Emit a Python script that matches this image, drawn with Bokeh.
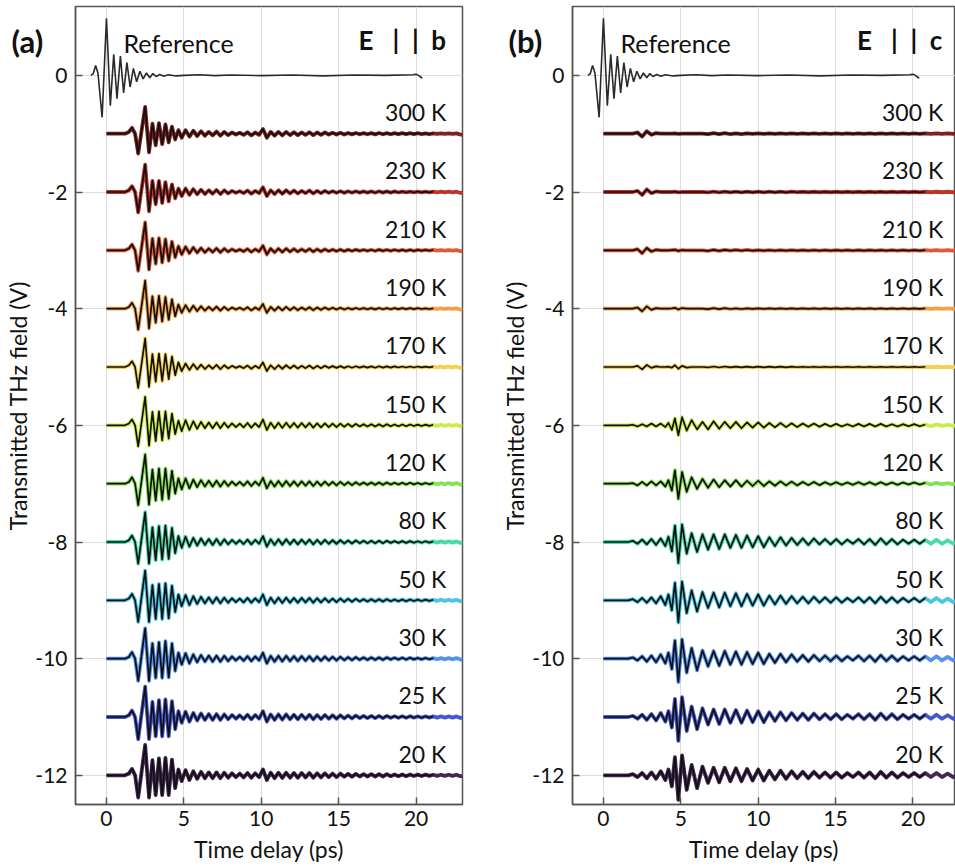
import numpy as np
from bokeh.plotting import figure
from bokeh.models import Range1d, Label, FixedTicker, GridBox
from bokeh.core.properties import value
from bokeh.embed import file_html
from bokeh.resources import INLINE

FONT = "Lato"

temps = ["300 K", "230 K", "210 K", "190 K", "170 K", "150 K", "120 K", "80 K", "50 K", "30 K", "25 K", "20 K"]
offsets = [-1, -2, -3, -4, -5, -6, -7, -8, -9, -10, -11, -12]
colors = ["#7a1414", "#b8281e", "#dc5228", "#f29c3c", "#f4cf46", "#c8ec3e", "#80e04c", "#40d8a2", "#40c2e0", "#4a8cf0", "#3c4ecf", "#3a1c4c"]

x_ticks = [0, 5, 10, 15, 20]
y_ticks = [-12, -10, -8, -6, -4, -2, 0]
y_tick_text = ["-12", "-10", "-8", "-6", "-4", "-2", "0"]
panel_letters = ["(a)", "(b)"]
polarizations = ["E\u00a0\u00a0\u00a0|\u00a0\u00a0|\u00a0\u00a0b", "E\u00a0\u00a0\u00a0|\u00a0\u00a0|\u00a0\u00a0c"]

# reference pulse (same in both panels)
ref_t = [-1.0, -0.85, -0.7, -0.55, -0.28, 0.0, 0.25, 0.47, 0.68, 0.9, 1.11, 1.32, 1.53, 1.74, 1.95,
         2.16, 2.37, 2.58, 2.8, 3.0, 3.2, 3.45, 3.7, 4.0, 4.5, 5.0, 6.0, 7.0, 8.0, 10.0, 12.0, 14.0,
         16.0, 18.0, 19.8, 20.0, 20.2, 20.4]
ref_v = [0.0, 0.03, 0.17, 0.04, -0.72, 0.98, -0.52, 0.36, -0.40, 0.33, -0.30, 0.22, -0.20, 0.12, -0.11,
         0.07, -0.06, 0.04, -0.04, 0.03, -0.02, 0.015, -0.015, 0.01, -0.01, 0.0, 0.01, -0.005, 0.005, -0.005,
         0.005, -0.01, 0.005, 0.0, 0.01, 0.02, -0.01, -0.05]

# ---- panel (a): E || b ----
a_pulse_t = [0.0, 1.2, 1.45, 1.65, 1.85, 2.05, 2.5, 2.75, 2.97, 3.18, 3.39, 3.6, 3.81, 4.02, 4.23, 4.44, 4.65]
a_300K = [0, 0, 0.03, 0.10, 0.0, -0.34, 0.46, -0.32, 0.17, -0.20, 0.18, -0.18, 0.16, -0.15, 0.12, -0.10, 0.06]
a_230K = [0, 0, 0.03, 0.10, 0.0, -0.35, 0.47, -0.33, 0.19, -0.21, 0.19, -0.19, 0.17, -0.16, 0.13, -0.11, 0.06]
a_210K = [0, 0, 0.03, 0.10, 0.0, -0.35, 0.48, -0.33, 0.20, -0.23, 0.21, -0.21, 0.19, -0.18, 0.15, -0.12, 0.07]
a_190K = [0, 0, 0.03, 0.10, 0.0, -0.36, 0.48, -0.34, 0.21, -0.24, 0.22, -0.22, 0.20, -0.19, 0.16, -0.13, 0.07]
a_170K = [0, 0, 0.03, 0.10, 0.0, -0.36, 0.49, -0.34, 0.22, -0.25, 0.23, -0.24, 0.22, -0.21, 0.18, -0.14, 0.08]
a_150K = [0, 0, 0.03, 0.10, 0.0, -0.36, 0.49, -0.35, 0.23, -0.27, 0.24, -0.26, 0.24, -0.23, 0.20, -0.15, 0.08]
a_120K = [0, 0, 0.03, 0.11, 0.0, -0.37, 0.50, -0.36, 0.24, -0.29, 0.26, -0.28, 0.26, -0.26, 0.22, -0.17, 0.09]
a_80K = [0, 0, 0.03, 0.11, 0.0, -0.37, 0.51, -0.37, 0.25, -0.31, 0.27, -0.30, 0.28, -0.29, 0.24, -0.19, 0.10]
a_50K = [0, 0, 0.03, 0.11, 0.0, -0.37, 0.51, -0.37, 0.26, -0.32, 0.28, -0.32, 0.29, -0.31, 0.25, -0.20, 0.10]
a_30K = [0, 0, 0.03, 0.11, 0.0, -0.38, 0.52, -0.38, 0.26, -0.33, 0.28, -0.33, 0.30, -0.32, 0.26, -0.21, 0.10]
a_25K = [0, 0, 0.03, 0.11, 0.0, -0.38, 0.52, -0.38, 0.26, -0.33, 0.29, -0.33, 0.30, -0.33, 0.27, -0.21, 0.10]
a_20K = [0, 0, 0.03, 0.11, 0.0, -0.38, 0.52, -0.38, 0.26, -0.34, 0.29, -0.34, 0.30, -0.34, 0.27, -0.22, 0.10]

a_tail_start, a_tail_step = 4.86, 0.25
a_tail_hi = [-0.07, 0.06, -0.05, 0.05, -0.04, 0.04, -0.035, 0.03, -0.03, 0.035, -0.035, 0.03, -0.025, 0.02,
             -0.015, 0.015, -0.02, 0.025, -0.03, 0.02, -0.02, 0.08, -0.07, 0.03, -0.035, 0.03, -0.03, 0.03,
             -0.025, 0.025, -0.025, 0.02, -0.02, 0.025, -0.025, 0.02, -0.02, 0.02, -0.015, 0.015, -0.015,
             0.015, -0.015, 0.012, -0.012, 0.012, -0.01, 0.01, -0.01, 0.01, -0.012, 0.012, -0.01, 0.01, -0.01,
             0.01, -0.008, 0.008, -0.008, 0.008, -0.008, 0.008, -0.006, 0.006, -0.006, 0.006, -0.005, 0.005,
             -0.005, 0.005, -0.005, 0.005, -0.015]
a_tail_lo = [-0.10, 0.09, -0.08, 0.07, -0.06, 0.06, -0.05, 0.05, -0.05, 0.05, -0.05, 0.045, -0.04, 0.035,
             -0.03, 0.03, -0.035, 0.04, -0.04, 0.035, -0.03, 0.10, -0.08, 0.045, -0.05, 0.045, -0.045, 0.045,
             -0.04, 0.04, -0.04, 0.04, -0.035, 0.04, -0.04, 0.035, -0.035, 0.035, -0.03, 0.03, -0.03, 0.03,
             -0.025, 0.025, -0.025, 0.025, -0.02, 0.02, -0.02, 0.02, -0.02, 0.02, -0.02, 0.02, -0.015, 0.015,
             -0.015, 0.015, -0.015, 0.015, -0.012, 0.012, -0.012, 0.012, -0.01, 0.01, -0.01, 0.01, -0.01, 0.01,
             -0.01, 0.01, -0.015]

# ---- panel (b): E || c ----
b_pulse_t = [0.0, 1.6, 1.9, 2.2, 2.5, 2.8, 3.1, 3.4, 3.7, 4.0, 4.2, 4.42, 4.62, 4.84, 5.08, 5.38, 5.7, 6.05, 6.4]
b_300K = [0, 0, 0.0, 0.02, -0.05, 0.04, -0.02, 0.01, 0.0, 0.0, 0.0, 0.0, 0.005, -0.005, 0.0, 0.0, 0.0, 0.0, 0.0]
b_230K = [0, 0, 0.0, 0.02, -0.05, 0.045, -0.02, 0.01, 0.0, 0.0, 0.0, 0.0, 0.005, -0.005, 0.0, 0.0, 0.0, 0.0, 0.0]
b_210K = [0, 0, 0.0, 0.02, -0.05, 0.04, -0.02, 0.01, 0.0, 0.0, 0.0, 0.005, 0.01, -0.01, 0.005, 0.0, 0.0, 0.0, 0.0]
b_190K = [0, 0, 0.0, 0.02, -0.045, 0.04, -0.02, 0.01, 0.0, 0.0, 0.0, 0.005, 0.015, -0.015, 0.01, 0.0, 0.0, 0.0, 0.0]
b_170K = [0, 0, 0.0, 0.02, -0.04, 0.035, -0.015, 0.01, 0.0, 0.0, 0.005, -0.01, 0.03, -0.03, 0.02, -0.01, 0.0, 0.0, 0.0]
b_150K = [0, 0, 0.01, -0.02, 0.02, -0.02, 0.03, -0.02, 0.03, -0.03, 0.04, -0.08, 0.12, -0.17, 0.14, -0.09, 0.09, -0.07, 0.06]
b_120K = [0, 0, 0.01, -0.03, 0.03, -0.03, 0.04, -0.03, 0.04, -0.05, 0.06, -0.12, 0.23, -0.26, 0.20, -0.14, 0.11, -0.09, 0.08]
b_80K = [0, 0, 0.02, -0.03, 0.04, -0.04, 0.05, -0.05, 0.06, -0.07, 0.09, -0.16, 0.28, -0.36, 0.30, -0.20, 0.15, -0.17, 0.13]
b_50K = [0, 0, 0.02, -0.03, 0.04, -0.04, 0.05, -0.05, 0.07, -0.08, 0.10, -0.17, 0.30, -0.38, 0.32, -0.22, 0.17, -0.19, 0.14]
b_30K = [0, 0, 0.02, -0.03, 0.04, -0.05, 0.05, -0.06, 0.07, -0.08, 0.10, -0.18, 0.31, -0.40, 0.33, -0.24, 0.18, -0.20, 0.14]
b_25K = [0, 0, 0.02, -0.03, 0.04, -0.05, 0.05, -0.06, 0.07, -0.08, 0.10, -0.18, 0.31, -0.41, 0.34, -0.24, 0.18, -0.21, 0.15]
b_20K = [0, 0, 0.02, -0.03, 0.04, -0.05, 0.05, -0.06, 0.07, -0.08, 0.10, -0.19, 0.31, -0.42, 0.34, -0.25, 0.18, -0.22, 0.15]

b_tail_start, b_tail_step = 6.76, 0.36
b_tail_hi = [-0.008, 0.008, -0.008, 0.008, -0.006, 0.006, -0.006, 0.006, -0.005, 0.005, -0.005, 0.005,
             -0.005, 0.005, -0.005, 0.005, -0.004, 0.004, -0.004, 0.004, -0.004, 0.004, -0.004, 0.004,
             -0.004, 0.004, -0.004, 0.004, -0.004, 0.004, -0.004, 0.004, -0.004, 0.004, -0.004, 0.004,
             -0.004, 0.004, -0.004, 0.004, -0.004, 0.004, -0.004, 0.004, -0.004, 0.0]
b_tail_mid = [-0.07, 0.07, -0.06, 0.06, -0.05, 0.06, -0.05, 0.05, -0.04, 0.05, -0.04, 0.04, -0.035, 0.04,
              -0.03, 0.035, -0.03, 0.03, -0.025, 0.03, -0.025, 0.025, -0.02, 0.025, -0.02, 0.02, -0.02, 0.025,
              -0.02, 0.025, -0.02, 0.025, -0.02, 0.02, -0.02, 0.02, -0.015, 0.02, -0.015, 0.015, -0.015, 0.015,
              -0.01, 0.01, -0.01, 0.01]
b_tail_lo = [-0.13, 0.13, -0.12, 0.13, -0.10, 0.12, -0.10, 0.11, -0.09, 0.10, -0.09, 0.08, -0.07, 0.08,
             -0.06, 0.07, -0.05, 0.06, -0.05, 0.06, -0.04, 0.05, -0.04, 0.05, -0.04, 0.04, -0.03, 0.05,
             -0.04, 0.05, -0.05, 0.06, -0.04, 0.05, -0.04, 0.04, -0.03, 0.04, -0.03, 0.04, -0.03, 0.04,
             -0.03, 0.03, -0.03, 0.02]

a_pulses = [a_300K, a_230K, a_210K, a_190K, a_170K, a_150K, a_120K, a_80K, a_50K, a_30K, a_25K, a_20K]
a_tails = [a_tail_hi] * 5 + [a_tail_lo] * 7
b_pulses = [b_300K, b_230K, b_210K, b_190K, b_170K, b_150K, b_120K, b_80K, b_50K, b_30K, b_25K, b_20K]
b_tails = [b_tail_hi] * 5 + [b_tail_mid] * 2 + [b_tail_lo] * 5

AX = "#555555"
TOP, BOTTOM, H = 6, 64, 868
WA, WB = 477, 478


def make_panel(pol, pulse_t, pulses, tail_start, tail_step, tails, x_end, width,
               left, right, label_x, pol_x, fit_end):
    p = figure(width=width, height=H, x_range=Range1d(-2, x_end), y_range=Range1d(-12.5, 1.18),
               output_backend="svg", toolbar_location=None,
               min_border_left=left, min_border_right=right, min_border_top=TOP, min_border_bottom=BOTTOM)
    p.background_fill_color = "white"
    p.border_fill_color = "white"
    p.outline_line_color = AX
    p.outline_line_width = 1.5
    p.xgrid.grid_line_color = "#dcdcdc"
    p.ygrid.grid_line_color = "#dcdcdc"
    p.xaxis.ticker = FixedTicker(ticks=x_ticks)
    p.yaxis.ticker = FixedTicker(ticks=y_ticks)
    p.yaxis.major_label_overrides = {t: s for t, s in zip(y_ticks, y_tick_text)}
    for ax in (p.xaxis, p.yaxis):
        ax.axis_line_color = AX
        ax.axis_line_width = 1.5
        ax.major_tick_line_color = AX
        ax.major_tick_line_width = 1.5
        ax.major_tick_in = 7
        ax.major_tick_out = 0
        ax.minor_tick_line_color = None
        ax.major_label_text_font = FONT
        ax.major_label_text_font_size = "21px"
        ax.major_label_text_color = "#111111"
        ax.axis_label_text_font = FONT
        ax.axis_label_text_font_size = "23px"
        ax.axis_label_text_font_style = "normal"
        ax.axis_label_text_color = "#111111"
    p.xaxis.axis_label = "Time delay (ps)"
    p.yaxis.axis_label = "Transmitted THz field (V)"
    p.xaxis.major_label_standoff = 6
    p.yaxis.major_label_standoff = 8
    p.xaxis.axis_label_standoff = 6
    p.yaxis.axis_label_standoff = 0

    # reference
    p.line(ref_t, ref_v, line_color="#2a2a2a", line_width=1.6)

    for name, off, col, pv, tv in zip(temps, offsets, colors, pulses, tails):
        tt = tail_start + tail_step * np.arange(len(tv))
        x = np.concatenate([np.array(pulse_t, float), tt])
        y = off + np.concatenate([np.array(pv, float), np.array(tv, float)])
        x = np.append(x, 23.0)
        y = np.append(y, y[-1])
        p.line(x, y, line_color=col, line_width=3.8, line_join="round", line_alpha=0.95)
        m = x <= fit_end
        p.line(x[m], y[m], line_color="#111111", line_width=1.7, line_join="round")
        p.add_layout(Label(x=label_x, y=off + 0.37, text=name, text_align="right", text_baseline="middle",
                           text_font=FONT, text_font_size="23px", text_color="#111111"))

    p.add_layout(Label(x=1.1, y=0.56, text="Reference", text_align="left", text_baseline="middle",
                       text_font=FONT, text_font_size="25px", text_color="#111111"))
    p.add_layout(Label(x=pol_x, y=0.6, text=pol, text_align="right", text_baseline="middle",
                       text_font=FONT, text_font_size="26px", text_font_style="bold", text_color="#111111"))
    return p


pa = make_panel(polarizations[0], a_pulse_t, a_pulses, a_tail_start, a_tail_step, a_tails,
                23.0, WA, 75, 15, 21.95, 21.94, 21.25)
pb = make_panel(polarizations[1], b_pulse_t, b_pulses, b_tail_start, b_tail_step, b_tails,
                22.75, WB, 95, 0, 21.95, 21.9, 21.0)

# transparent overlay carrying the panel letters, which sit outside the plot frames
ov = figure(width=WA + WB, height=H, x_range=Range1d(0, WA + WB), y_range=Range1d(H, 0),
            x_axis_type=None, y_axis_type=None, output_backend="svg", toolbar_location=None,
            min_border=0, min_border_left=0, min_border_right=0, min_border_top=0, min_border_bottom=0)
ov.frame_align = False
ov.background_fill_alpha = 0
ov.border_fill_alpha = 0
ov.outline_line_color = None
ov.text(x=[11, 508], y=[40, 40], text=panel_letters, text_font=value(FONT), text_font_size="31px",
        text_font_style="bold", text_baseline="middle", text_align="left", text_color="#111111")

layout = GridBox(children=[(pa, 0, 0), (pb, 0, 1), (ov, 0, 0, 1, 2)])
open("out.html", "w").write(file_html(layout, INLINE))
